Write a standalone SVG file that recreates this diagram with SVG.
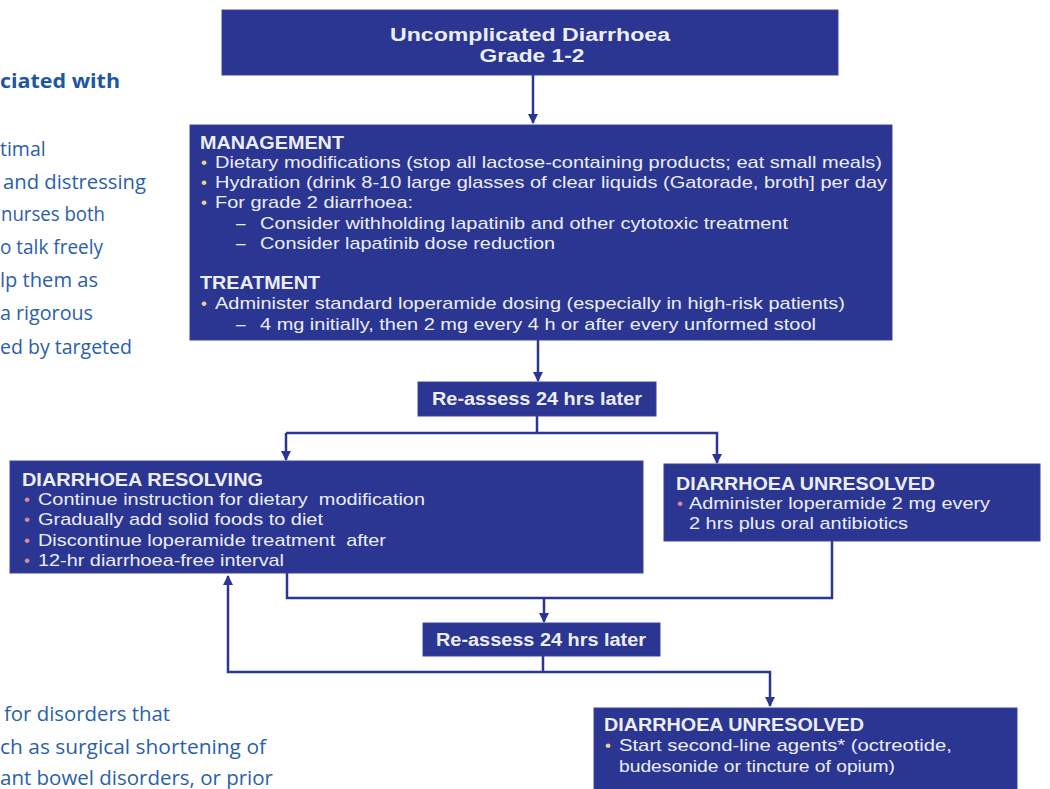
<svg xmlns="http://www.w3.org/2000/svg" width="1050" height="789" viewBox="0 0 1050 789">
<defs>
<style>
.box{fill:#2b3592;stroke:#3a449c;stroke-width:1}
.t{font-family:"Liberation Sans",Arial,sans-serif;fill:#eceef6;font-size:17px;white-space:pre}
.h{font-family:"Liberation Sans",Arial,sans-serif;fill:#eceef6;font-size:18px;font-weight:bold}
.by{fill:#e6d58c}
.bp{fill:#d98a9a}
.pg{font-family:"Open Sans","Noto Sans",sans-serif;fill:#2a60aa;font-size:19.5px}
.pgb{font-family:"Open Sans","Noto Sans",sans-serif;fill:#1d56a2;font-size:19px;font-weight:bold}
.c{fill:none;stroke:#2b3592;stroke-width:2.5}
</style>
<marker id="ah" viewBox="0 0 10 10" refX="9" refY="5" markerWidth="4" markerHeight="4" orient="auto" markerUnits="strokeWidth">
<path d="M0,0 L10,5 L0,10 z" fill="#2b3592"/>
</marker>
</defs>
<rect width="1050" height="789" fill="#ffffff"/>

<g id="page-text">
<text class="pgb" x="0" y="88" textLength="120" lengthAdjust="spacingAndGlyphs">ciated with</text>
<text class="pg" x="0" y="156">timal</text>
<text class="pg" x="3" y="189" textLength="143" lengthAdjust="spacingAndGlyphs">and distressing</text>
<text class="pg" x="1" y="221" textLength="104" lengthAdjust="spacingAndGlyphs">nurses both</text>
<text class="pg" x="0" y="254" textLength="103" lengthAdjust="spacingAndGlyphs">o talk freely</text>
<text class="pg" x="0" y="287" textLength="98" lengthAdjust="spacingAndGlyphs">lp them as</text>
<text class="pg" x="0" y="320" textLength="93" lengthAdjust="spacingAndGlyphs">a rigorous</text>
<text class="pg" x="0" y="354" textLength="132" lengthAdjust="spacingAndGlyphs">ed by targeted</text>
<text class="pg" x="4" y="721" textLength="166" lengthAdjust="spacingAndGlyphs">for disorders that</text>
<text class="pg" x="0" y="754" textLength="266" lengthAdjust="spacingAndGlyphs">ch as surgical shortening of</text>
<text class="pg" x="0" y="785" textLength="273" lengthAdjust="spacingAndGlyphs">ant bowel disorders, or prior</text>
</g>

<g id="connectors">
<line class="c" x1="533" y1="75" x2="533" y2="123" marker-end="url(#ah)"/>
<line class="c" x1="538" y1="340" x2="538" y2="381" marker-end="url(#ah)"/>
<polyline class="c" points="537,416 537,433"/>
<polyline class="c" points="286,433 717,433 717,463" marker-end="url(#ah)"/>
<line class="c" x1="286" y1="433" x2="286" y2="460" marker-end="url(#ah)"/>
<polyline class="c" points="287,573 287,598 832,598 832,541"/>
<line class="c" x1="544" y1="598" x2="544" y2="622" marker-end="url(#ah)"/>
<polyline class="c" points="543,656 543,672"/>
<polyline class="c" points="543,672 228,672 228,576" marker-end="url(#ah)"/>
<polyline class="c" points="543,672 770,672 770,706" marker-end="url(#ah)"/>
</g>

<g id="node-start">
<rect class="box" x="222" y="10" width="616" height="65"/>
<text class="h" x="530" y="41" text-anchor="middle" textLength="280" lengthAdjust="spacingAndGlyphs">Uncomplicated Diarrhoea</text>
<text class="h" x="532" y="62" text-anchor="middle" textLength="105" lengthAdjust="spacingAndGlyphs">Grade 1-2</text>
</g>

<g id="node-management">
<rect class="box" x="190" y="125" width="702" height="215"/>
<text class="h" x="200" y="149" textLength="144" lengthAdjust="spacingAndGlyphs">MANAGEMENT</text>
<text class="t by" x="201" y="168">•</text>
<text class="t" x="215" y="168" textLength="667" lengthAdjust="spacingAndGlyphs">Dietary modifications (stop all lactose-containing products; eat small meals)</text>
<text class="t by" x="201" y="188">•</text>
<text class="t" x="215" y="188" textLength="672" lengthAdjust="spacingAndGlyphs">Hydration (drink 8-10 large glasses of clear liquids (Gatorade, broth] per day</text>
<text class="t by" x="201" y="208">•</text>
<text class="t" x="215" y="208" textLength="198" lengthAdjust="spacingAndGlyphs">For grade 2 diarrhoea:</text>
<text class="t" x="236" y="229">–</text>
<text class="t" x="260" y="229" textLength="528" lengthAdjust="spacingAndGlyphs">Consider withholding lapatinib and other cytotoxic treatment</text>
<text class="t" x="236" y="249">–</text>
<text class="t" x="260" y="249" textLength="295" lengthAdjust="spacingAndGlyphs">Consider lapatinib dose reduction</text>
<text class="h" x="200" y="289" textLength="120" lengthAdjust="spacingAndGlyphs">TREATMENT</text>
<text class="t by" x="201" y="309">•</text>
<text class="t" x="215" y="309" textLength="630" lengthAdjust="spacingAndGlyphs">Administer standard loperamide dosing (especially in high-risk patients)</text>
<text class="t" x="236" y="330">–</text>
<text class="t" x="260" y="330" textLength="556" lengthAdjust="spacingAndGlyphs">4 mg initially, then 2 mg every 4 h or after every unformed stool</text>
</g>

<g id="node-reassess-1">
<rect class="box" x="418" y="382" width="238" height="34"/>
<text class="h" x="537" y="405" text-anchor="middle" textLength="210" lengthAdjust="spacingAndGlyphs">Re-assess 24 hrs later</text>
</g>

<g id="node-resolving">
<rect class="box" x="10" y="461" width="633" height="112"/>
<text class="h" x="22" y="486" textLength="241" lengthAdjust="spacingAndGlyphs">DIARRHOEA RESOLVING</text>
<text class="t bp" x="24" y="505">•</text>
<text class="t" x="38" y="505" textLength="387" lengthAdjust="spacingAndGlyphs">Continue instruction for dietary  modification</text>
<text class="t bp" x="24" y="525">•</text>
<text class="t" x="38" y="525" textLength="285" lengthAdjust="spacingAndGlyphs">Gradually add solid foods to diet</text>
<text class="t bp" x="24" y="546">•</text>
<text class="t" x="38" y="546" textLength="348" lengthAdjust="spacingAndGlyphs">Discontinue loperamide treatment  after</text>
<text class="t bp" x="24" y="566">•</text>
<text class="t" x="38" y="566" textLength="246" lengthAdjust="spacingAndGlyphs">12-hr diarrhoea-free interval</text>
</g>

<g id="node-unresolved-1">
<rect class="box" x="664" y="464" width="376" height="77"/>
<text class="h" x="676" y="490" textLength="259" lengthAdjust="spacingAndGlyphs">DIARRHOEA UNRESOLVED</text>
<text class="t bp" x="677" y="509">•</text>
<text class="t" x="689" y="509" textLength="301" lengthAdjust="spacingAndGlyphs">Administer loperamide 2 mg every</text>
<text class="t" x="689" y="529" textLength="219" lengthAdjust="spacingAndGlyphs">2 hrs plus oral antibiotics</text>
</g>

<g id="node-reassess-2">
<rect class="box" x="423" y="623" width="237" height="33"/>
<text class="h" x="541" y="646" text-anchor="middle" textLength="210" lengthAdjust="spacingAndGlyphs">Re-assess 24 hrs later</text>
</g>

<g id="node-unresolved-2">
<rect class="box" x="594" y="708" width="423" height="95"/>
<text class="h" x="604" y="731" textLength="260" lengthAdjust="spacingAndGlyphs">DIARRHOEA UNRESOLVED</text>
<text class="t by" x="605" y="751">•</text>
<text class="t" x="619" y="751" textLength="333" lengthAdjust="spacingAndGlyphs">Start second-line agents* (octreotide,</text>
<text class="t" x="619" y="772" textLength="276" lengthAdjust="spacingAndGlyphs">budesonide or tincture of opium)</text>
</g>
</svg>
